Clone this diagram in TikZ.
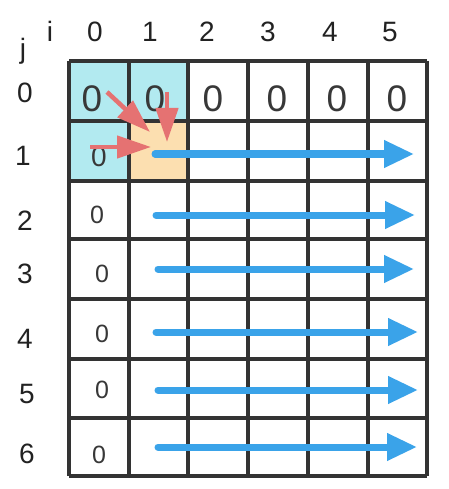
\documentclass[tikz,border=0pt]{standalone}
\usepackage{fontspec}
\setmainfont{Liberation Sans}
\usetikzlibrary{arrows.meta}
\definecolor{gridc}{HTML}{333333}
\definecolor{cyanc}{HTML}{B2EAF0}
\definecolor{peachc}{HTML}{FCDFB0}
\definecolor{redc}{HTML}{E57272}
\definecolor{bluec}{HTML}{3AA3E9}
\definecolor{textc}{HTML}{222222}
\begin{document}
\begin{tikzpicture}[x=1pt,y=-1pt,
  gridline/.style={draw=gridc,line width=3.5pt},
  axislabel/.style={anchor=base,font=\fontsize{28}{28}\selectfont,text=textc,inner sep=0pt},
  bigzero/.style={anchor=base,font=\fontsize{37}{37}\selectfont,text=textc!90,inner sep=0pt},
  midzero/.style={anchor=base,font=\fontsize{28}{28}\selectfont,text=textc!90,inner sep=0pt},
  smallzero/.style={anchor=base,font=\fontsize{25}{25}\selectfont,text=textc!90,inner sep=0pt},
  redarrow/.style={draw=redc,line width=4.5pt,-{Triangle[length=34pt,width=22pt]}},
  bluearrow/.style={draw=bluec,line width=7pt,line cap=round,-{Triangle[length=30pt,width=26pt]}}]
\useasboundingbox (0,0) rectangle (448,489);
\fill[white] (0,0) rectangle (448,489);
% cell fills
\fill[cyanc] (69,61) rectangle (188,121);
\fill[cyanc] (69,121) rectangle (129,181);
\fill[peachc] (129,121) rectangle (188,181);
% grid
\foreach \x in {69,129,188,248,308,368,427} \draw[gridline] (\x,61) -- (\x,476);
\foreach \y in {61,121,181,239,299,359,418,476} \draw[gridline] (69,\y) -- (427,\y);
% axis labels
\node[axislabel] (li) at (50,42) {i};
\node[axislabel] (lj) at (23,59) {j};
\foreach \x/\t [count=\k] in {95/0,150/1,207/2,268/3,330/4,390/5}
  \node[axislabel] (c\k) at (\x,42) {\t};
\foreach \x/\y/\t [count=\k] in {25/103/0,23/165/1,25/230/2,25/283/3,25/348/4,27/403/5,27/463/6}
  \node[axislabel] (r\k) at (\x,\y) {\t};
% zeros
\foreach \x [count=\k] in {92,155,213,277,337,397}
  \node[bigzero] (z0\k) at (\x,112) {0};
\node[midzero] (z10) at (99,167) {0};
\foreach \x/\y [count=\k] in {97/223,102/282,102/342,102/398,99/463}
  \node[smallzero] (zr\k) at (\x,\y) {0};
% red arrows
\coordinate (ra1) at (107,92); \coordinate (rb1) at (150,132);
\coordinate (ra2) at (167,92); \coordinate (rb2) at (167,142);
\coordinate (ra3) at (90,147); \coordinate (rb3) at (151,147);
\draw[redarrow] (ra1) -- (rb1);
\draw[redarrow] (ra2) -- (rb2);
\draw[redarrow] (ra3) -- (rb3);
% blue arrows
\foreach \y/\s/\e [count=\k] in {154/155/414,215/156/415,269/158/414,332/156/418,390/158/418,447/158/417}{
  \coordinate (ba\k) at (\s,\y); \coordinate (bb\k) at (\e,\y);
  \draw[bluearrow] (ba\k) -- (bb\k);
}
\end{tikzpicture}
\end{document}
